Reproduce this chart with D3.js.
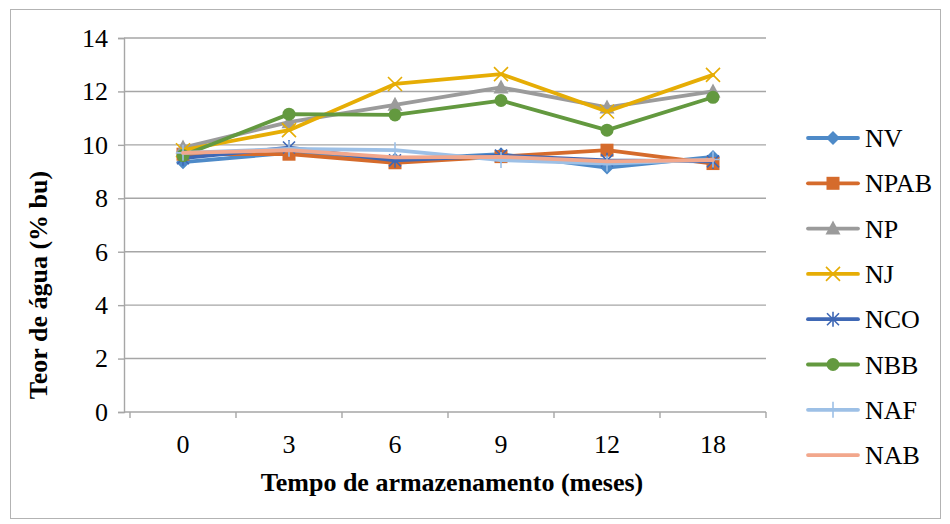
<!DOCTYPE html>
<html>
<head>
<meta charset="utf-8">
<script src="https://cdn.jsdelivr.net/npm/d3@7"></script>
<style>
  html, body { margin: 0; padding: 0; background: #fff; }
  svg { display: block; }
</style>
</head>
<body>
<svg id="chart" width="950" height="524"></svg>
<script>
// Storage time (months) and moisture content series
const months = ["0", "3", "6", "9", "12", "18"];
const seriesNames = ["NV", "NPAB", "NP", "NJ", "NCO", "NBB", "NAF", "NAB"];
const NV   = [9.35, 9.70, 9.45, 9.65, 9.15, 9.55];
const NPAB = [9.65, 9.65, 9.33, 9.56, 9.80, 9.30];
const NP   = [9.90, 10.85, 11.50, 12.15, 11.40, 12.00];
const NJ   = [9.80, 10.55, 12.28, 12.65, 11.25, 12.62];
const NCO  = [9.50, 9.90, 9.42, 9.60, 9.42, 9.38];
const NBB  = [9.60, 11.15, 11.12, 11.66, 10.55, 11.78];
const NAF  = [9.70, 9.85, 9.80, 9.43, 9.30, 9.45];
const NAB  = [9.70, 9.80, 9.53, 9.55, 9.38, 9.43];
const yTicks = [0, 2, 4, 6, 8, 10, 12, 14];

const values = { NV, NPAB, NP, NJ, NCO, NBB, NAF, NAB };
const styles = {
  NV:   { color: "#4E8AC8", marker: "diamond" },
  NPAB: { color: "#D56B2C", marker: "square" },
  NP:   { color: "#9B9B9B", marker: "triangle" },
  NJ:   { color: "#E6AD05", marker: "x" },
  NCO:  { color: "#3F68B5", marker: "star" },
  NBB:  { color: "#63993F", marker: "circle" },
  NAF:  { color: "#9DC0E6", marker: "plus" },
  NAB:  { color: "#F2A78C", marker: "none" }
};

const FONT = "Liberation Serif";
const FS = 26;
const svg = d3.select("#chart");
const plot = { left: 124, right: 766, top: 38, bottom: 412 };

// Outer chart frame
svg.append("rect")
  .attr("x", 10.5).attr("y", 9.5).attr("width", 930).attr("height", 509)
  .attr("fill", "#fff").attr("stroke", "#b3b3b3").attr("stroke-width", 1);

const x = d3.scaleBand().domain(months).range([plot.left + 6, plot.right]).padding(0);
const y = d3.scaleLinear().domain([0, 14]).range([plot.bottom, plot.top]);

// Horizontal gridlines
svg.append("g").selectAll("line").data(yTicks.filter(t => t > 0)).join("line")
  .attr("x1", plot.left).attr("x2", plot.right)
  .attr("y1", d => y(d)).attr("y2", d => y(d))
  .attr("stroke", "#a6a6a6").attr("stroke-width", 1.4);

// Y axis
const yAxis = svg.append("g").attr("transform", `translate(${plot.left},0)`)
  .call(d3.axisLeft(y).tickValues(yTicks).tickSize(6).tickPadding(10).tickFormat(d3.format("d")));
yAxis.attr("font-family", FONT).attr("font-size", FS);
yAxis.select(".domain").attr("stroke", "#a6a6a6").attr("stroke-width", 1.4);
yAxis.selectAll(".tick line").attr("stroke", "#a6a6a6").attr("stroke-width", 1.4);
yAxis.selectAll("text").attr("font-family", FONT).attr("font-size", FS).attr("fill", "#000");

// X axis: line with ticks at category boundaries
const xg = svg.append("g");
xg.append("line")
  .attr("x1", plot.left).attr("x2", plot.right)
  .attr("y1", plot.bottom).attr("y2", plot.bottom)
  .attr("stroke", "#a6a6a6").attr("stroke-width", 1.4);
const bounds = months.map(m => x(m)).concat([x(months[months.length - 1]) + x.bandwidth()]);
xg.selectAll("line.tk").data(bounds).join("line").attr("class", "tk")
  .attr("x1", d => d).attr("x2", d => d)
  .attr("y1", plot.bottom).attr("y2", plot.bottom + 6)
  .attr("stroke", "#a6a6a6").attr("stroke-width", 1.4);
xg.selectAll("text").data(months).join("text")
  .attr("x", d => x(d) + x.bandwidth() / 2)
  .attr("y", 453)
  .attr("text-anchor", "middle")
  .attr("font-family", FONT)
  .attr("font-size", FS)
  .text(d => d);

// Axis titles
svg.append("text")
  .attr("x", 452).attr("y", 491)
  .attr("text-anchor", "middle")
  .attr("font-family", FONT)
  .attr("font-size", FS).attr("font-weight", "bold")
  .text("Tempo de armazenamento (meses)");
svg.append("text")
  .attr("transform", "translate(47,285) rotate(-90)")
  .attr("text-anchor", "middle")
  .attr("font-family", FONT)
  .attr("font-size", FS).attr("font-weight", "bold")
  .text("Teor de água (% bu)");

// Marker drawing
function drawMarker(g, type, color) {
  switch (type) {
    case "diamond":
      g.append("path").attr("d", "M0,-7L7,0L0,7L-7,0Z").attr("fill", color);
      break;
    case "square":
      g.append("rect").attr("x", -6.5).attr("y", -6.5).attr("width", 13).attr("height", 13).attr("fill", color);
      break;
    case "triangle":
      g.append("path").attr("d", "M0,-8L7.5,6L-7.5,6Z").attr("fill", color);
      break;
    case "x":
      g.append("path").attr("d", "M-7,-7L7,7M7,-7L-7,7").attr("stroke", color).attr("stroke-width", 1.6);
      break;
    case "star":
      g.append("path").attr("d", "M-6,-6L6,6M6,-6L-6,6M0,-7.5L0,7.5").attr("stroke", color).attr("stroke-width", 1.6);
      break;
    case "circle":
      g.append("circle").attr("r", 6.5).attr("fill", color);
      break;
    case "plus":
      g.append("path").attr("d", "M0,-8L0,8M-7,0L7,0").attr("stroke", color).attr("stroke-width", 1.6);
      break;
  }
}

const line = d3.line()
  .x((d, i) => x(months[i]) + x.bandwidth() / 2)
  .y(d => y(d));

// Series lines and markers
seriesNames.forEach(name => {
  const s = styles[name];
  const g = svg.append("g");
  g.append("path").datum(values[name])
    .attr("d", line)
    .attr("fill", "none")
    .attr("stroke", s.color)
    .attr("stroke-width", 3.8)
    .attr("stroke-linejoin", "round")
    .attr("stroke-linecap", "round");
  values[name].forEach((v, i) => {
    const mg = g.append("g")
      .attr("transform", `translate(${x(months[i]) + x.bandwidth() / 2},${y(v)})`);
    drawMarker(mg, s.marker, s.color);
  });
});

// Legend
const legend = svg.append("g");
seriesNames.forEach((name, i) => {
  const s = styles[name];
  const ly = 138 + i * 45.3;
  const lg = legend.append("g");
  lg.append("line")
    .attr("x1", 808).attr("x2", 858).attr("y1", ly).attr("y2", ly)
    .attr("stroke", s.color).attr("stroke-width", 3.8).attr("stroke-linecap", "round");
  const mg = lg.append("g").attr("transform", `translate(833,${ly})`);
  drawMarker(mg, s.marker, s.color);
  lg.append("text")
    .attr("x", 865).attr("y", ly + 9)
    .attr("font-family", FONT)
    .attr("font-size", FS)
    .text(name);
});
</script>
</body>
</html>
